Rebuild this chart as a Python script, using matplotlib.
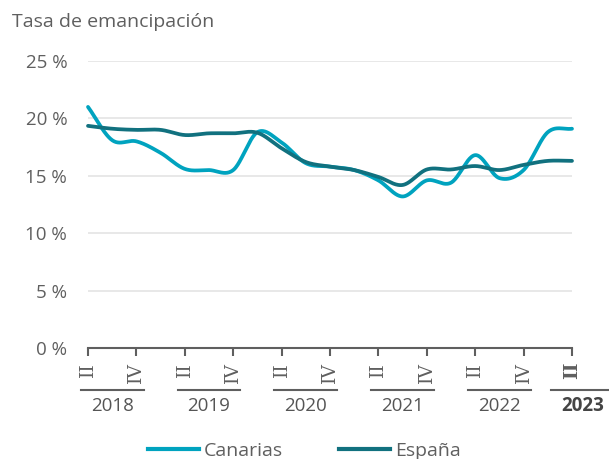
import numpy as np
import matplotlib
matplotlib.use("Agg")
import matplotlib.pyplot as plt
from matplotlib.lines import Line2D

# ---- data ----
quarters = ["II", "III", "IV", "I", "II", "III", "IV", "I", "II", "III", "IV",
            "I", "II", "III", "IV", "I", "II", "III", "IV", "I", "II"]
years = ["2018", "2019", "2020", "2021", "2022", "2023"]
canarias = [21.0, 18.1, 18.0, 17.0, 15.6, 15.5, 15.5, 18.8, 17.9, 16.1, 15.8,
            15.5, 14.6, 13.2, 14.6, 14.4, 16.8, 14.8, 15.5, 18.8, 19.1]
espana = [19.35, 19.1, 19.0, 19.0, 18.55, 18.7, 18.7, 18.75, 17.4, 16.2, 15.8,
          15.5, 14.9, 14.2, 15.55, 15.55, 15.85, 15.5, 15.95, 16.3, 16.3]
yticks = [0, 5, 10, 15, 20, 25]
series_names = ["Canarias", "España"]
colors = ["#00a3bf", "#11717f"]

FONT = ["Open Sans", "DejaVu Sans"]
plt.rcParams["font.family"] = FONT
GRAY = "#5f5f5f"


def smooth(x, y, xs):
    """Catmull-Rom style cubic Hermite through the data points."""
    x = np.asarray(x, float); y = np.asarray(y, float)
    h = np.diff(x)
    m = np.zeros_like(y)
    m[1:-1] = (y[2:] - y[:-2]) / (x[2:] - x[:-2])
    m[0] = (y[1] - y[0]) / h[0]
    m[-1] = (y[-1] - y[-2]) / h[-1]
    idx = np.clip(np.searchsorted(x, xs) - 1, 0, len(h) - 1)
    t = (xs - x[idx]) / h[idx]
    h00 = 2 * t**3 - 3 * t**2 + 1; h10 = t**3 - 2 * t**2 + t
    h01 = -2 * t**3 + 3 * t**2; h11 = t**3 - t**2
    return (h00 * y[idx] + h10 * h[idx] * m[idx] + h01 * y[idx + 1]
            + h11 * h[idx] * m[idx + 1])


W, H = 609, 459
fig = plt.figure(figsize=(W / 100, H / 100), dpi=100)
ax = fig.add_axes([88 / W, (H - 348) / H, 484 / W, 287 / H])

x = np.arange(len(quarters))
xs = np.linspace(0, len(quarters) - 1, 800)
for vals, c in zip([canarias, espana], colors):
    ax.plot(xs, smooth(x, vals, xs), color=c, lw=2.7,
            solid_capstyle="round", clip_on=False, zorder=3)

ax.set_xlim(0, len(quarters) - 1)
ax.set_ylim(0, 25)
ax.set_yticks(yticks)
ax.set_yticklabels([f"{v} %" for v in yticks], fontsize=13.5, color=GRAY)
ax.tick_params(axis="y", length=0, pad=15)
ax.grid(axis="y", color="#e6e6e6", lw=1.3)
ax.set_axisbelow(True)
for s in ["top", "right", "left"]:
    ax.spines[s].set_visible(False)
ax.spines["bottom"].set_color(GRAY)
ax.spines["bottom"].set_linewidth(1.5)

tick_pos = [i for i, q in enumerate(quarters) if q in ("II", "IV")]
ax.set_xticks(tick_pos)
ax.set_xticklabels([quarters[i] for i in tick_pos], rotation=90,
                   family=["DejaVu Serif"], fontsize=13.5, color=GRAY)
for lab in ax.get_xticklabels()[-1:]:
    lab.set_fontweight("bold")
ax.tick_params(axis="x", length=6, width=1.5, color=GRAY, pad=4)

# year group labels
for k, yr in enumerate(years):
    if yr == "2023":
        cx = len(quarters) - 1 + 0.45
        bold = "bold"
    else:
        cx = 1 + 4 * k
        bold = "normal"
    ax.plot([cx - 1.3, cx + 1.3], [-42 / 287 * 25] * 2, color=GRAY, lw=1.5,
            clip_on=False)
    ax.text(cx, -58 / 287 * 25, yr, ha="center", va="center", fontsize=13.5,
            color="#555555" if bold == "normal" else "#444444", fontweight=bold,
            clip_on=False)

fig.text(12 / W, 1 - 22 / H, "Tasa de emancipación", fontsize=14, color=GRAY,
         ha="left", va="center")

handles = [Line2D([], [], color=c, lw=3) for c in colors]
fig.legend(handles, series_names, loc="center", bbox_to_anchor=(0.5, 1 - 451 / H),
           ncol=2, frameon=False, fontsize=14, handlelength=2.6, columnspacing=2.9,
           handletextpad=0.25, labelcolor=GRAY)

fig.savefig("out.png", dpi=100)
